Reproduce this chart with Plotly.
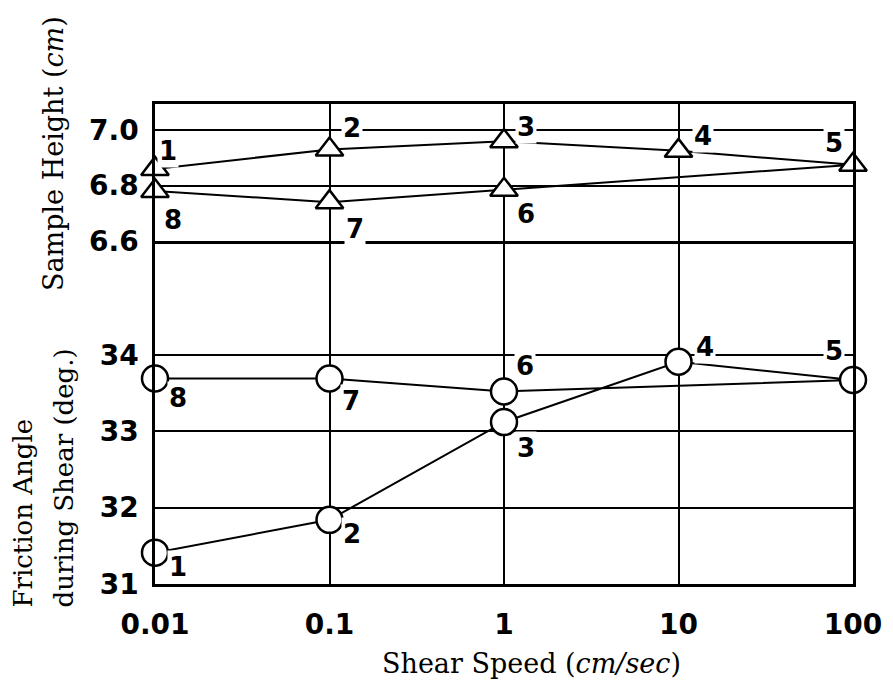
import numpy as np
import plotly.graph_objects as go

# ---- data ----
speed = [0.01, 0.1, 1, 10, 100, 1, 0.1, 0.01]
height = [6.86, 6.93, 6.96, 6.925, 6.875, 6.785, 6.74, 6.78]
friction = [31.41, 31.84, 33.12, 33.91, 33.67, 33.52, 33.69, 33.69]
labels = ["1", "2", "3", "4", "5", "6", "7", "8"]
x_ticks = [0.01, 0.1, 1, 10, 100]
x_ticktext = ["0.01", "0.1", "1", "10", "100"]
h_ticks = [6.6, 6.8, 7.0]
h_ticktext = ["6.6", "6.8", "7.0"]
f_ticks = [31, 32, 33, 34]
f_ticktext = ["31", "32", "33", "34"]

# label offsets (pixels) for point numbers
h_off = [(13, 18), (22, 21), (22, 14), (24, 15), (-19, 22), (22, -24), (25, -27), (18, -29)]
f_off = [(23, -14), (22, -14), (22, -26), (26, 15), (-19, 29), (21, 25), (21, -22), (23, -19)]

LW = 2.5
TICKFONT = dict(family="DejaVu Sans", size=28, color="black", weight="bold")
LABFONT = dict(family="DejaVu Sans", size=26, color="black", weight="bold")
SERIF = "DejaVu Serif"

fig = go.Figure()
fig.add_trace(go.Scatter(
    x=speed, y=height, mode="lines+markers", xaxis="x2", yaxis="y2",
    line=dict(color="black", width=2),
    marker=dict(symbol="triangle-up", size=24, color="white",
                line=dict(color="black", width=2.5)),
    cliponaxis=False, showlegend=False))
fig.add_trace(go.Scatter(
    x=speed, y=friction, mode="lines+markers", xaxis="x", yaxis="y",
    line=dict(color="black", width=2),
    marker=dict(symbol="circle", size=26, color="white",
                line=dict(color="black", width=2.5)),
    cliponaxis=False, showlegend=False))

ann = []
for xv, yv, t, (dx, dy) in zip(speed, height, labels, h_off):
    ann.append(dict(x=np.log10(xv), y=yv, xref="x2", yref="y2", text=t,
                    showarrow=False, xshift=dx, yshift=dy, bgcolor="white",
                    borderpad=1, font=LABFONT))
for xv, yv, t, (dx, dy) in zip(speed, friction, labels, f_off):
    ann.append(dict(x=np.log10(xv), y=yv, xref="x", yref="y", text=t,
                    showarrow=False, xshift=dx, yshift=dy, bgcolor="white",
                    borderpad=1, font=LABFONT))

# axis titles
ann.append(dict(x=0, y=1, xref="paper", yref="paper", xshift=-102, yshift=-50,
                xanchor="center", yanchor="middle",
                text="Sample Height (<i>cm</i>)", textangle=-90, showarrow=False,
                font=dict(family=SERIF, size=27, color="black")))
ann.append(dict(x=0, y=0, xref="paper", yref="paper", xshift=-133, yshift=-26,
                xanchor="center", yanchor="bottom", text="Friction Angle",
                textangle=-90, showarrow=False,
                font=dict(family=SERIF, size=26, color="black")))
ann.append(dict(x=0, y=0, xref="paper", yref="paper", xshift=-92, yshift=-26,
                xanchor="center", yanchor="bottom", text="during Shear (deg.)",
                textangle=-90, showarrow=False,
                font=dict(family=SERIF, size=26, color="black")))
ann.append(dict(x=0.5, y=0, xref="paper", yref="paper", xshift=27, yshift=-62,
                xanchor="center", yanchor="top",
                text="Shear Speed (<i>cm/sec</i>)", showarrow=False,
                font=dict(family=SERIF, size=27, color="black")))

split = (584 - 241) / 480
axis_common = dict(showline=True, linecolor="black", linewidth=LW,
                   showgrid=True, gridcolor="black", gridwidth=2, zeroline=False,
                   ticks="", tickfont=TICKFONT)

fig.update_layout(
    width=893, height=683,
    margin=dict(l=155, r=40, t=104, b=99),
    paper_bgcolor="white", plot_bgcolor="white",
    xaxis=dict(type="log", range=[-2, 2], tickvals=x_ticks, ticktext=x_ticktext,
               anchor="y", domain=[0, 1], ticklabelstandoff=14, mirror=False,
               **axis_common),
    xaxis2=dict(type="log", range=[-2, 2], tickvals=x_ticks, showticklabels=False,
                matches="x", anchor="y2", domain=[0, 1], mirror=True, **axis_common),
    yaxis=dict(range=[31, 35.49], tickvals=f_ticks, ticktext=f_ticktext,
               domain=[0, split], anchor="x", ticklabelstandoff=8, mirror=True,
               **axis_common),
    yaxis2=dict(range=[6.6, 7.094], tickvals=h_ticks, ticktext=h_ticktext,
                domain=[split, 1], anchor="x2", ticklabelstandoff=8, mirror=True,
                **axis_common),
    annotations=ann,
)
fig.write_html("out.html")
